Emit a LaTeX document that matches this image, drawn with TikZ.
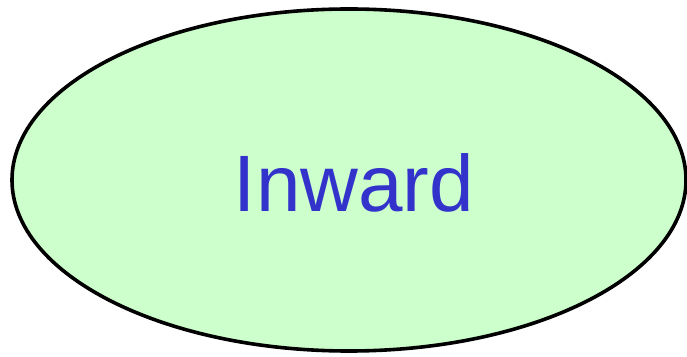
\documentclass[tikz,border=0pt]{standalone}
\usepackage{fontspec}
\setmainfont{Liberation Sans}
\usetikzlibrary{shapes.geometric}

\definecolor{blobfill}{HTML}{CCFFCC}
\definecolor{blobtext}{HTML}{3333CC}

\begin{document}
\begin{tikzpicture}[
    x=1pt, y=1pt,
    blob/.style={
      draw, ellipse, line width=3.6pt, fill=blobfill,
      minimum width=674pt, minimum height=342pt, inner sep=0pt
    },
    word/.style={text=blobtext, font=\fontsize{80}{80}\selectfont}
]

  % Fix the page size
  \useasboundingbox (0,0) rectangle (687,356);

  % The ellipse and its label
  \node[blob] (inward) at (349,176) {};
  \node[word, anchor=base] (label) at (354,144) {Inward};

\end{tikzpicture}
\end{document}
